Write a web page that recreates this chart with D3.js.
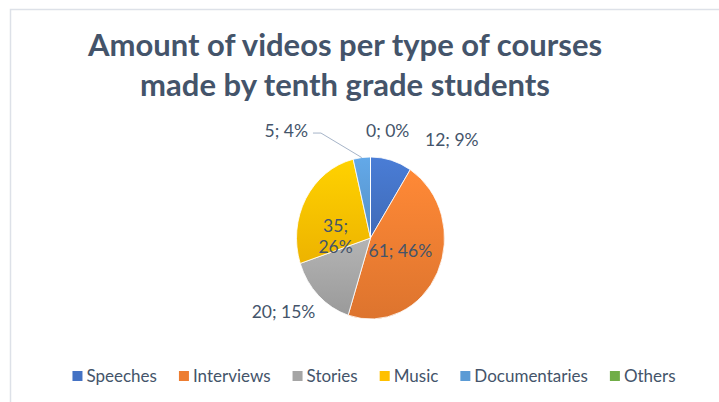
<!DOCTYPE html>
<html>
<head>
<meta charset="utf-8">
<script src="https://cdn.jsdelivr.net/npm/d3@7"></script>
<style>
  body { margin: 0; background: #fff; }
  svg { display: block; font-family: Lato, "Open Sans", sans-serif; }
</style>
</head>
<body>
<div class="pie-chart"></div>
<script>
// data
const categories = ["Speeches", "Interviews", "Stories", "Music", "Documentaries", "Others"];
const videos = [12, 61, 20, 35, 5, 0];
const colors = ["#4472C4", "#ED7D31", "#A5A5A5", "#FFC000", "#5B9BD5", "#70AD47"];
const titleLines = ["Amount of videos per type of courses", "made by tenth grade students"];

const width = 719;
const height = 402;
const cx = 370.5, cy = 238;
const radius = 74;     // horizontal radius
const ky = 81 / 74;    // the pie is a bit taller than wide
const textColor = "#44546A";

// label layout: angle shift (degrees) from slice middle, distance from centre
const labelLayout = [
    { shift: 26, dist: 121, inside: false },
    { shift: -4, dist: 32, inside: true },
    { shift: 7.6, dist: 110, inside: false },
    { shift: -26, dist: 35, inside: true, split: true },
    { shift: -34, dist: 129, inside: false, leader: true },
    { shift: 10, dist: 99, inside: false }
];

const svg = d3.select('.pie-chart')
    .append('svg')
    .attr('width', width)
    .attr('height', height);

// light frame of the chart area (left and top only are visible)
svg.append('path')
    .attr('d', `M10.5,${height} L10.5,9.5 L${width},9.5`)
    .attr('fill', 'none')
    .attr('stroke', '#DDE1E8')
    .attr('stroke-width', 1.5);

// title
svg.append('text')
    .attr('x', 345)
    .attr('y', 56)
    .attr('text-anchor', 'middle')
    .attr('fill', textColor)
    .attr('font-weight', 'bold')
    .attr('font-size', 31)
    .selectAll('tspan')
    .data(titleLines)
    .enter()
    .append('tspan')
    .attr('x', 345)
    .attr('dy', (d, i) => i === 0 ? 0 : 40)
    .text(d => d);

// gradients, lighter at the top
const defs = svg.append('defs');
colors.forEach((c, i) => {
    const g = defs.append('linearGradient')
        .attr('id', 'grad' + i)
        .attr('x1', 0).attr('y1', 0).attr('x2', 0).attr('y2', 1);
    g.append('stop').attr('offset', '0%').attr('stop-color', d3.color(c).brighter(0.25));
    g.append('stop').attr('offset', '100%').attr('stop-color', d3.color(c).darker(0.2));
});

const total = d3.sum(videos);
const pie = d3.pie().sort(null).value(d => d);
const arcs = pie(videos);
const arc = d3.arc().innerRadius(0).outerRadius(radius);

const pieG = svg.append('g')
    .attr('transform', `translate(${cx},${cy}) scale(1,${ky})`);

pieG.selectAll('path')
    .data(arcs)
    .enter()
    .append('path')
    .attr('d', arc)
    .attr('fill', (d, i) => `url(#grad${i})`)
    .attr('stroke', '#fff')
    .attr('stroke-width', 0.8)
    .attr('vector-effect', 'non-scaling-stroke');

// helper: polar point (angle from top, clockwise) in page coords
function polar(angle, dist) {
    const p = d3.arc().innerRadius(dist).outerRadius(dist).centroid({ startAngle: angle, endAngle: angle });
    return [cx + p[0], cy + p[1] * ky];
}

const labelG = svg.append('g')
    .attr('fill', textColor)
    .attr('font-size', 17.5)
    .attr('text-anchor', 'middle');

arcs.forEach((d, i) => {
    const lay = labelLayout[i];
    const mid = (d.startAngle + d.endAngle) / 2;
    const a = mid + lay.shift * Math.PI / 180;
    const [x, y] = polar(a, lay.dist);
    const pct = Math.round(d.value / total * 100);
    const t = labelG.append('text').attr('x', x).attr('y', y);
    if (lay.split) {
        t.append('tspan').attr('x', x).attr('dy', '-0.25em').text(`${d.value};`);
        t.append('tspan').attr('x', x).attr('dy', '1.2em').text(`${pct}%`);
    } else {
        t.attr('dy', '0.35em').text(`${d.value}; ${pct}%`);
    }
    if (lay.leader) {
        const w = t.node().getComputedTextLength();
        const edge = polar(mid, radius);
        svg.append('polyline')
            .attr('points', [edge, [x + w / 2 + 13, y + 2], [x + w / 2 + 5, y + 2]].map(p => p.join(',')).join(' '))
            .attr('fill', 'none')
            .attr('stroke', '#A6B4C8')
            .attr('stroke-width', 1);
    }
});

// legend, laid out by measured text widths and centred
const legendY = 376;
const box = 10, boxGap = 4, itemGap = 22;
const legend = svg.append('g')
    .attr('font-size', 17)
    .attr('fill', textColor);

const items = legend.selectAll('g')
    .data(categories)
    .enter()
    .append('g');

items.append('rect')
    .attr('width', box)
    .attr('height', box)
    .attr('y', legendY - box / 2)
    .attr('fill', (d, i) => colors[i]);

items.append('text')
    .attr('x', box + boxGap)
    .attr('y', legendY)
    .attr('dy', '0.35em')
    .text(d => d);

let offset = 0;
const widths = [];
items.each(function () {
    widths.push(d3.select(this).select('text').node().getComputedTextLength());
});
const totalW = d3.sum(widths, w => box + boxGap + w) + itemGap * (widths.length - 1);
offset = 374 - totalW / 2;
items.attr('transform', (d, i) => {
    const tx = offset;
    offset += box + boxGap + widths[i] + itemGap;
    return `translate(${tx},0)`;
});
</script>
</body>
</html>
